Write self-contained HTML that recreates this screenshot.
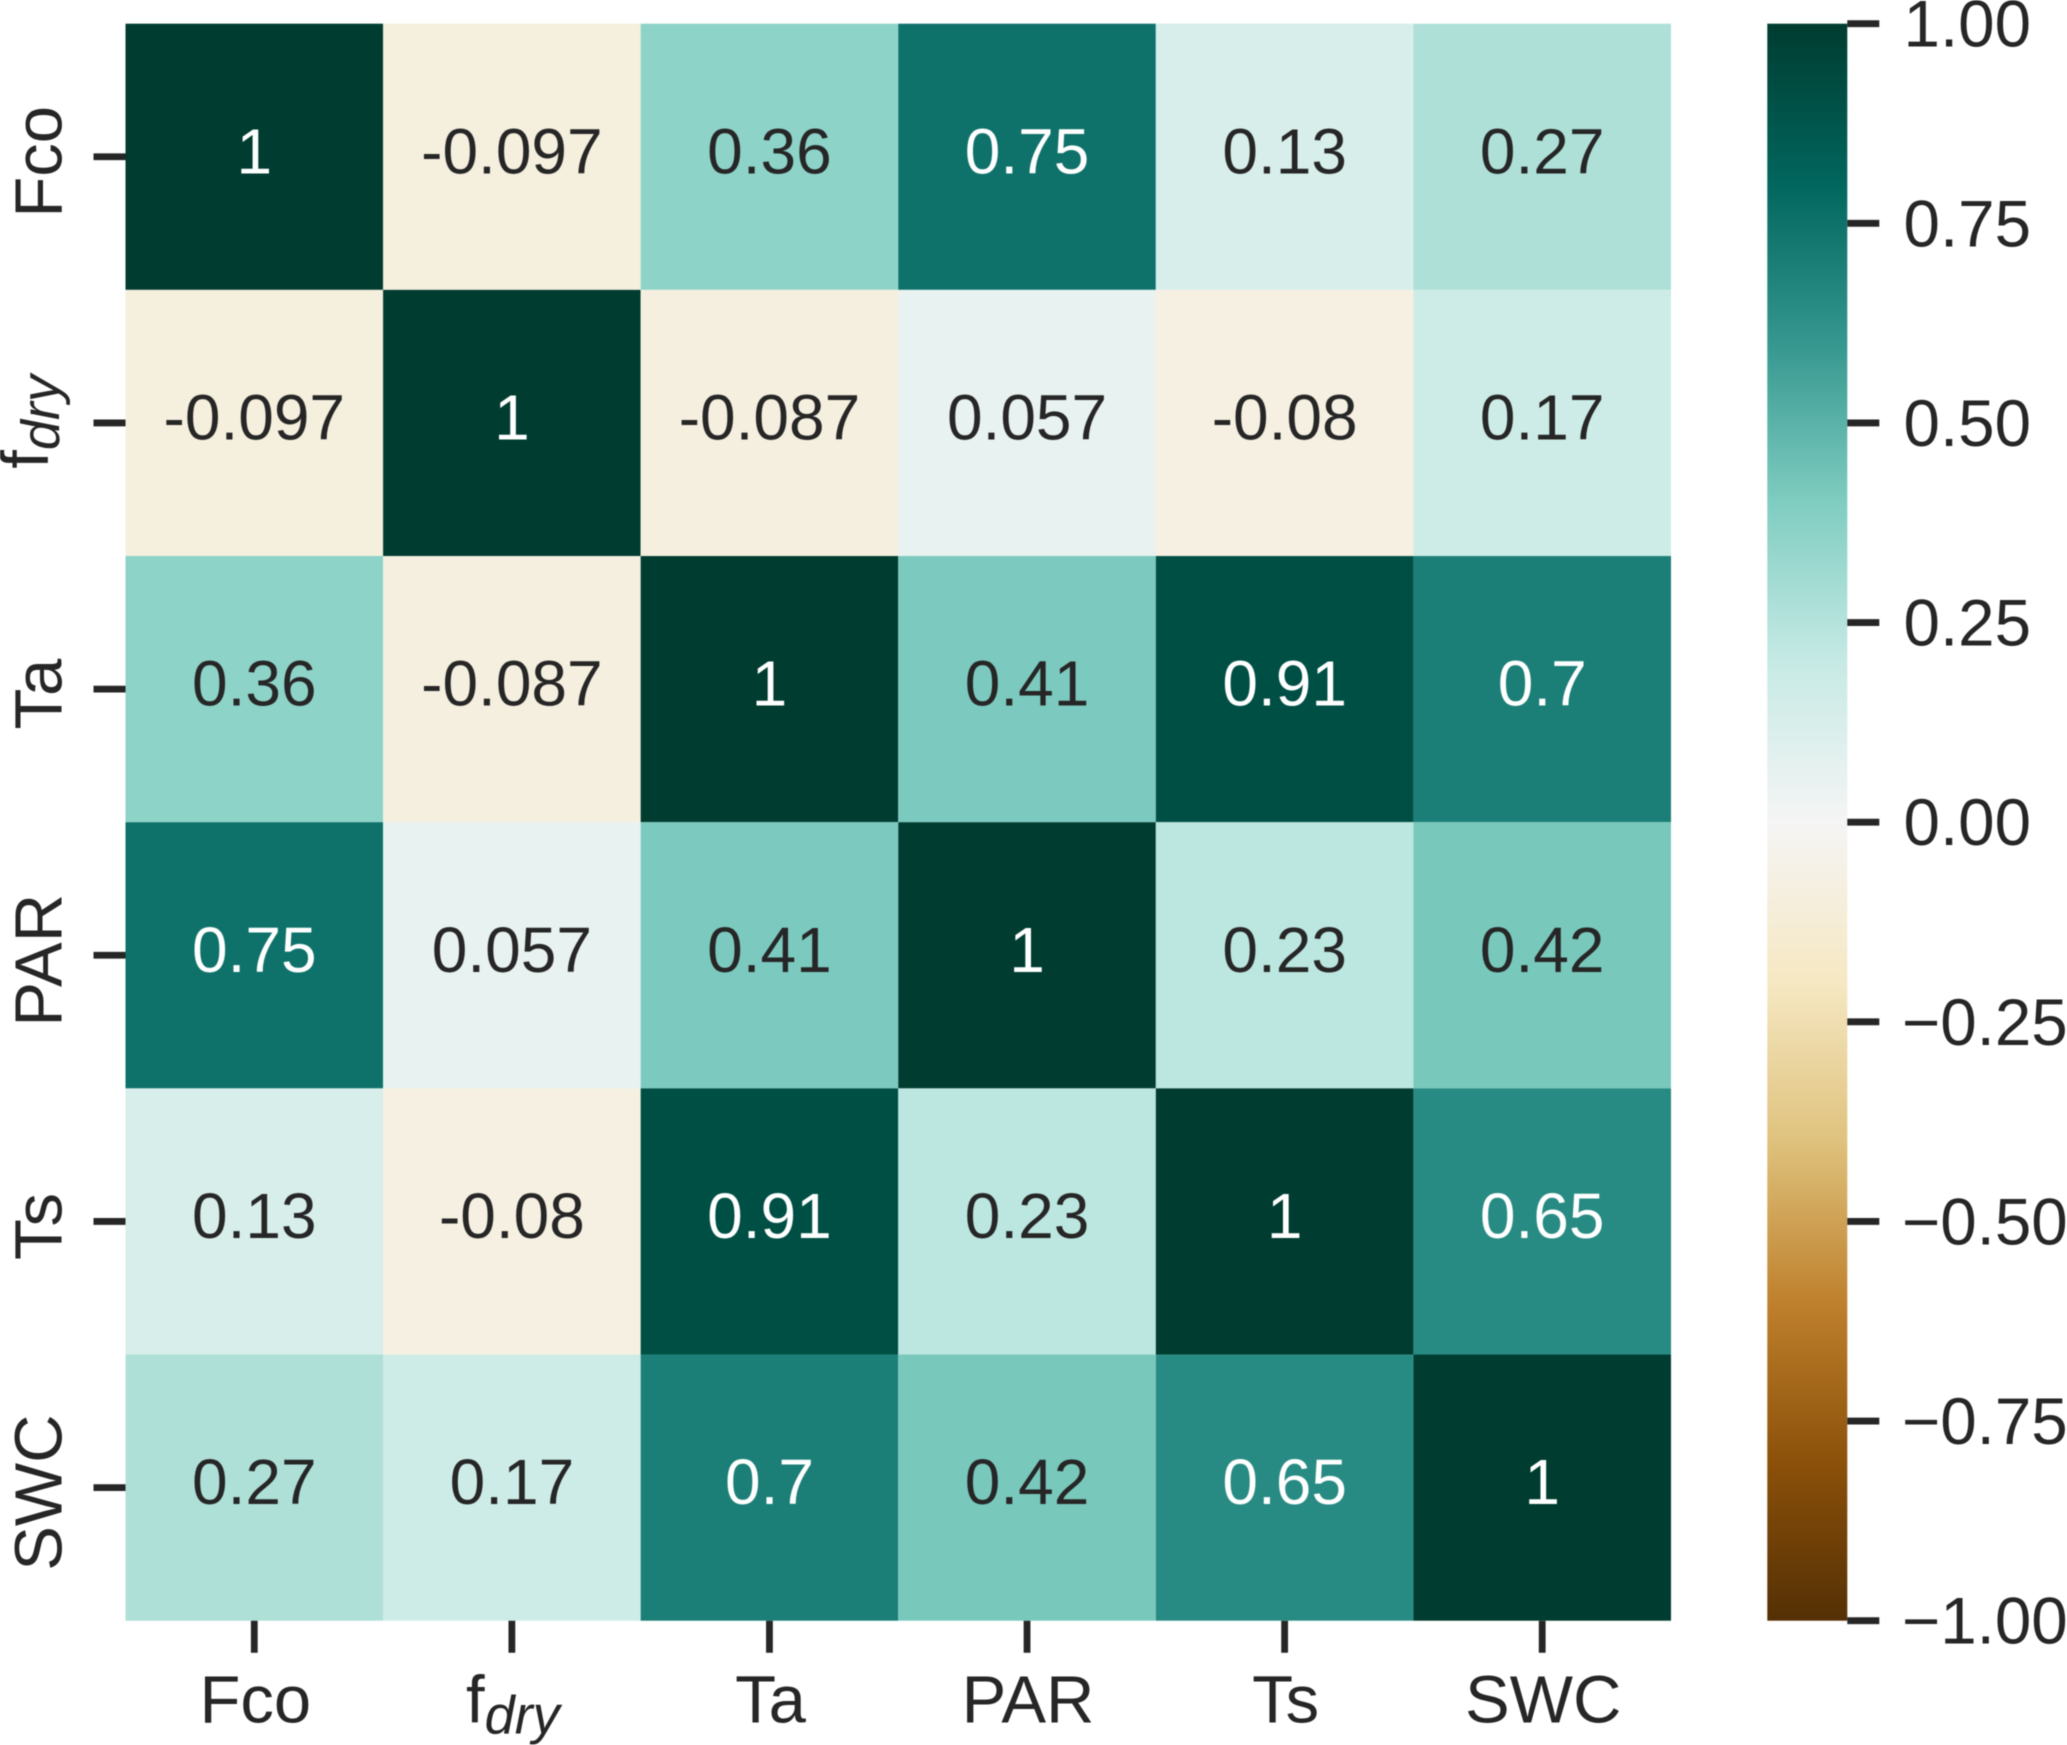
<!DOCTYPE html>
<html lang="en">
<head>
<meta charset="utf-8">
<title>Correlation heatmap</title>
<style>
  html, body { margin: 0; padding: 0; background: #ffffff; }
  body { width: 2067px; height: 1745px; overflow: hidden; }
  svg { display: block; filter: blur(0.4px); }
  text { font-family: "Liberation Sans", Arial, sans-serif; }
</style>
</head>
<body>
<svg id="chart" xmlns="http://www.w3.org/2000/svg" width="2067" height="1745" viewBox="0 0 2067 1745">
  <defs>
    <linearGradient id="cbar-gradient" x1="0" y1="1" x2="0" y2="0"></linearGradient>
  </defs>
  <rect x="0" y="0" width="2067" height="1745" fill="#ffffff"></rect>
  <g id="cells"></g>
  <g id="annotations"></g>
  <g id="x-axis"></g>
  <g id="y-axis"></g>
  <g id="colorbar"></g>
</svg>
<script>
const categories = ['Fco', 'fdry', 'Ta', 'PAR', 'Ts', 'SWC'];
const rowFco  = [1, -0.097, 0.36, 0.75, 0.13, 0.27];
const rowFdry = [-0.097, 1, -0.087, 0.057, -0.08, 0.17];
const rowTa   = [0.36, -0.087, 1, 0.41, 0.91, 0.7];
const rowPar  = [0.75, 0.057, 0.41, 1, 0.23, 0.42];
const rowTs   = [0.13, -0.08, 0.91, 0.23, 1, 0.65];
const rowSwc  = [0.27, 0.17, 0.7, 0.42, 0.65, 1];
const correlations = [rowFco, rowFdry, rowTa, rowPar, rowTs, rowSwc];
const colorbarTicks = [1, 0.75, 0.5, 0.25, 0, -0.25, -0.5, -0.75, -1];
const colormapStops = ['#543005', '#8c510a', '#bf812d', '#dfc27d', '#f6e8c3', '#f5f5f5', '#c7eae5', '#80cdc1', '#35978f', '#01665e', '#003c30'];

const SVG_NS = 'http://www.w3.org/2000/svg';
const plot = { left: 125.5, top: 23.7, right: 1671, bottom: 1620.7 };
const cbar = { left: 1767.3, right: 1847.3, top: 23.7, bottom: 1620.7 };
const INK = '#262626';
const FONT = 64;
const CBAR_FONT = 65.5;
const LABEL_FONT = 67;
const SUB_FONT = 54;

function xBand(i) { return plot.left + (plot.right - plot.left) * i / categories.length; }
function yBand(i) { return plot.top + (plot.bottom - plot.top) * i / categories.length; }
function cbarY(v) { return cbar.bottom - (v + 1) / 2 * (cbar.bottom - cbar.top); }

function hexRgb(h) {
  return [parseInt(h.slice(1, 3), 16), parseInt(h.slice(3, 5), 16), parseInt(h.slice(5, 7), 16)];
}
function colorRgb(v) {
  const t = Math.max(0, Math.min(1, (v + 1) / 2)) * (colormapStops.length - 1);
  const i = Math.min(Math.floor(t), colormapStops.length - 2);
  const f = t - i;
  const a = hexRgb(colormapStops[i]);
  const b = hexRgb(colormapStops[i + 1]);
  return [0, 1, 2].map(function (k) { return a[k] + (b[k] - a[k]) * f; });
}
function rgbCss(c) { return 'rgb(' + c.map(Math.round).join(',') + ')'; }
function luminance(c) {
  const l = c.map(function (u) {
    const s = u / 255;
    return s <= 0.03928 ? s / 12.92 : Math.pow((s + 0.055) / 1.055, 2.4);
  });
  return 0.2126 * l[0] + 0.7152 * l[1] + 0.0722 * l[2];
}
function make(tag, parent) {
  const el = document.createElementNS(SVG_NS, tag);
  parent.appendChild(el);
  return el;
}
function tickLine(parent, x1, y1, x2, y2) {
  const l = make('line', parent);
  l.setAttribute('x1', x1);
  l.setAttribute('y1', y1);
  l.setAttribute('x2', x2);
  l.setAttribute('y2', y2);
  l.setAttribute('stroke', INK);
  l.setAttribute('stroke-width', 6.8);
  return l;
}
function writeLabel(t, name) {
  if (name === 'fdry') {
    const base = make('tspan', t);
    base.textContent = 'f';
    const sub = make('tspan', t);
    sub.setAttribute('dy', '11');
    sub.setAttribute('font-size', SUB_FONT);
    sub.setAttribute('font-style', 'italic');
    sub.textContent = 'dry';
  } else {
    t.textContent = name;
  }
}

const cellsG = document.getElementById('cells');
const annG = document.getElementById('annotations');
const xG = document.getElementById('x-axis');
const yG = document.getElementById('y-axis');
const cbG = document.getElementById('colorbar');

const n = categories.length;
const cw = (plot.right - plot.left) / n;
const ch = (plot.bottom - plot.top) / n;

correlations.forEach(function (row, r) {
  row.forEach(function (v, c) {
    const rgb = colorRgb(v);
    const rect = make('rect', cellsG);
    
    
    rect.setAttribute('x', xBand(c));
    rect.setAttribute('y', yBand(r));
    rect.setAttribute('width', cw);
    rect.setAttribute('height', ch);
    rect.setAttribute('fill', rgbCss(rgb));

    const t = make('text', annG);
    
    
    t.setAttribute('x', xBand(c) + cw / 2);
    t.setAttribute('y', yBand(r) + ch / 2 + 16.5);
    t.setAttribute('text-anchor', 'middle');
    t.setAttribute('font-size', FONT);
    t.setAttribute('fill', luminance(rgb) < 0.408 ? '#ffffff' : INK);
    t.textContent = String(v);
  });
});

categories.forEach(function (name, i) {
  const slug = name.toLowerCase();
  const cx = xBand(i) + cw / 2;
  const xt = tickLine(xG, cx, plot.bottom, cx, plot.bottom + 32);
  
  
  const xl = make('text', xG);
  
  
  xl.setAttribute('x', cx + 1);
  xl.setAttribute('y', 1722.5);
  xl.setAttribute('text-anchor', 'middle');
  xl.setAttribute('font-size', LABEL_FONT);
  xl.setAttribute('fill', INK);
  writeLabel(xl, name);

  const cy = yBand(i) + ch / 2;
  const yt = tickLine(yG, plot.left - 32, cy, plot.left, cy);
  
  
  const yl = make('text', yG);
  const bx = name === 'fdry' ? 48 : 61.5;
  const by = name === 'fdry' ? cy - 1 : cy + 5;
  
  
  yl.setAttribute('x', bx);
  yl.setAttribute('y', by);
  yl.setAttribute('transform', 'rotate(-90 ' + bx + ' ' + by + ')');
  yl.setAttribute('text-anchor', 'middle');
  yl.setAttribute('font-size', LABEL_FONT);
  yl.setAttribute('fill', INK);
  writeLabel(yl, name);
});

const grad = document.getElementById('cbar-gradient');
colormapStops.forEach(function (col, i) {
  const s = make('stop', grad);
  s.setAttribute('offset', i / (colormapStops.length - 1));
  s.setAttribute('stop-color', col);
});
const bar = make('rect', cbG);


bar.setAttribute('x', cbar.left);
bar.setAttribute('y', cbar.top);
bar.setAttribute('width', cbar.right - cbar.left);
bar.setAttribute('height', cbar.bottom - cbar.top);
bar.setAttribute('fill', 'url(#cbar-gradient)');

colorbarTicks.forEach(function (v) {
  const y = cbarY(v);
  const slug = v.toFixed(2);
  const tk = tickLine(cbG, cbar.right, y, cbar.right + 32, y);
  
  
  const t = make('text', cbG);
  
  
  t.setAttribute('x', v < 0 ? 1902 : 2031);
  t.setAttribute('y', y + 23);
  t.setAttribute('text-anchor', v < 0 ? 'start' : 'end');
  t.setAttribute('font-size', CBAR_FONT);
  t.setAttribute('fill', INK);
  t.textContent = v.toFixed(2).replace('-', '\u2212');
});
</script>
</body>
</html>
